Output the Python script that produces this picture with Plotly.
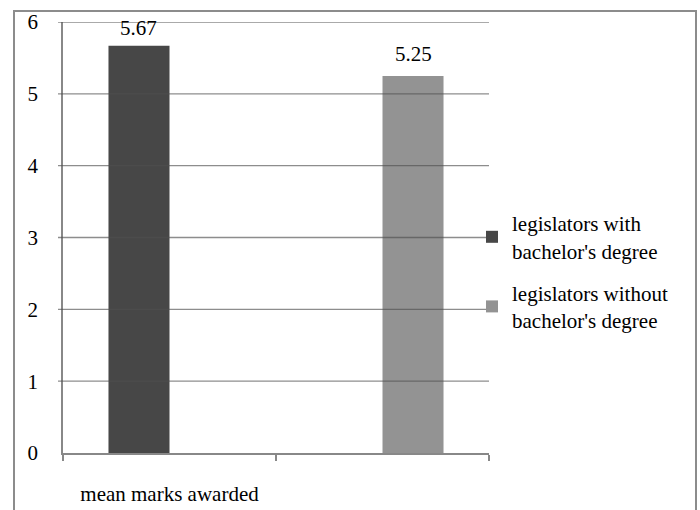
import plotly.graph_objects as go

categories = ["mean marks awarded", " "]
series_names = ["legislators with<br>bachelor's degree", "legislators without<br>bachelor's degree"]
with_degree = [5.67, None]
without_degree = [None, 5.25]
y_ticks = [0, 1, 2, 3, 4, 5, 6]

colors = ["#474747", "#939393"]
FONT = "'Liberation Serif', 'Times New Roman', 'DejaVu Serif', serif"
FS = 21

# layout in pixels
W, H = 700, 510
L, R, T, B = 63, 211, 22, 57
pw, ph = W - L - R, H - T - B
bargap = 0.427

fig = go.Figure()
for name, vals, col in zip(series_names, [with_degree, without_degree], colors):
    fig.add_trace(go.Bar(x=categories, y=vals, name=name, marker_color=col,
                         marker_line_width=0, legendgroup=name))

# data labels
half = (1 - bargap) / 4
annotations = []
for si, vals in enumerate([with_degree, without_degree]):
    for ci, v in enumerate(vals):
        if v is None:
            continue
        py = T + ph * (1 - v / 6)
        shift = min(22, py - 28)
        annotations.append(dict(x=ci + (-half if si == 0 else half), y=v, xref="x", yref="y",
                                text=f"{v:.2f}", showarrow=False, yanchor="middle",
                                yshift=shift, font=dict(family=FONT, size=FS, color="black")))

def px_x(p):
    return (p - L) / pw

def px_y(p):
    return (T + ph - p) / ph

# gridlines drawn above the bars, as in the reference
shapes = [dict(type="line", xref="paper", yref="y", x0=px_x(58), x1=1, y0=t, y1=t,
               line=dict(color="rgba(80,80,80,0.65)", width=1.3), layer="above")
          for t in y_ticks if t > 0]
shapes.append(dict(type="rect", xref="paper", yref="paper",
                   x0=px_x(14), x1=px_x(696), y0=px_y(530), y1=px_y(11),
                   line=dict(color="#8c8c8c", width=2), fillcolor="rgba(0,0,0,0)", layer="below"))

fig.update_layout(
    width=W, height=H,
    margin=dict(l=L, r=R, t=T, b=B, autoexpand=False),
    paper_bgcolor="white", plot_bgcolor="white",
    barmode="group", bargap=bargap, bargroupgap=0,
    font=dict(family=FONT, size=FS, color="black"),
    showlegend=True,
    legend=dict(x=px_x(472), y=px_y(203), xanchor="left", yanchor="top",
                bgcolor="rgba(0,0,0,0)", font=dict(family=FONT, size=FS, color="black"),
                tracegroupgap=12, itemclick=False),
    annotations=annotations,
    shapes=shapes,
    xaxis=dict(type="category", showline=True, linecolor="#888888", linewidth=1.5,
               ticks="outside", ticklen=6, tickcolor="#888888", tickwidth=1.5,
               tickson="boundaries", showgrid=False, ticklabelstandoff=21,
               tickfont=dict(family=FONT, size=FS, color="black"), fixedrange=True),
    yaxis=dict(range=[0, 6], tickvals=y_ticks, showline=True, linecolor="#888888",
               linewidth=1.5, ticks="", showgrid=False, zeroline=False,
               ticklabelstandoff=19, tickfont=dict(family=FONT, size=FS, color="black"),
               fixedrange=True),
)

fig.write_html("out.html", config={"displayModeBar": False})
